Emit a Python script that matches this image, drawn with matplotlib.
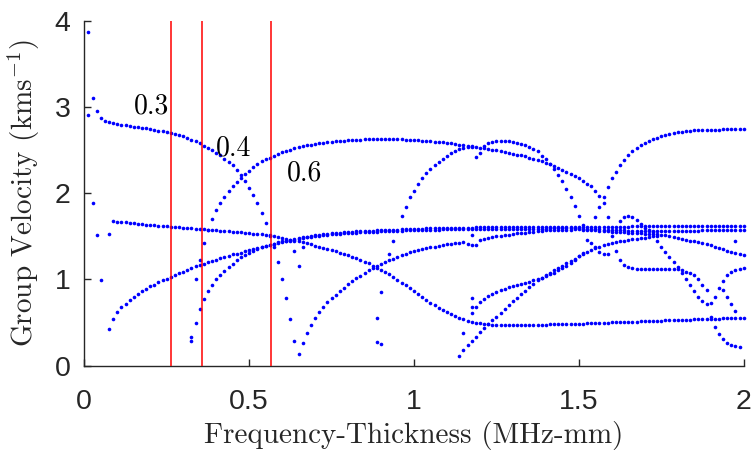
import numpy as np
import matplotlib
matplotlib.use("Agg")
import matplotlib.pyplot as plt

# frequency-thickness sampling of the dispersion solver (MHz-mm)
FREQ_STEP = 0.0125

# group velocity branches (km/s), each listed from its first frequency
MODE_A_F0 = 0.0125
MODE_A = [2.90, 3.10, 2.95, 2.87, 2.835, 2.82, 2.81, 2.80, 2.795, 2.785,
          2.78, 2.77, 2.765, 2.755, 2.75, 2.74, 2.735, 2.725, 2.715, 2.705,
          2.695, 2.685, 2.675, 2.66, 2.64, 2.62, 2.60, 2.575, 2.55, 2.525,
          2.50, 2.47, 2.44, 2.40, 2.36, 2.32, 2.27, 2.21, 2.14, 2.06,
          1.98, 1.88, 1.77, 1.65, 1.52, 1.37, 1.20, 1.00, 0.78, 0.54,
          0.29, 0.13]

MODE_B_F0 = 0.3375
MODE_B = [1.00, 1.23, 1.42, 1.57, 1.70, 1.80, 1.88, 1.95, 2.02, 2.08,
          2.13, 2.18, 2.22, 2.26, 2.30, 2.34, 2.37, 2.39, 2.41, 2.43,
          2.455, 2.475, 2.49, 2.505, 2.52, 2.535, 2.545, 2.555, 2.563, 2.57,
          2.577, 2.583, 2.59, 2.595, 2.60, 2.604, 2.608, 2.612, 2.615, 2.618,
          2.62, 2.622, 2.624, 2.625, 2.626, 2.627, 2.627, 2.627, 2.626, 2.625,
          2.623, 2.62, 2.618, 2.615, 2.612, 2.608, 2.604, 2.60, 2.597, 2.594,
          2.59, 2.585, 2.578, 2.57, 2.562, 2.553, 2.546, 2.54, 2.535, 2.527,
          2.52, 2.513, 2.505, 2.497, 2.49, 2.48, 2.47, 2.457, 2.447, 2.437,
          2.425, 2.41, 2.398, 2.385, 2.37, 2.352, 2.335, 2.315, 2.295, 2.27,
          2.25, 2.225, 2.20, 2.17, 2.14, 2.11, 2.08, 2.03, 1.97, 1.88,
          1.72, 1.50, 1.33, 1.23, 1.17, 1.145, 1.132, 1.124, 1.12, 1.118,
          1.117, 1.117, 1.117, 1.117, 1.117, 1.117, 1.117, 1.117, 1.105, 1.09,
          1.075, 1.05, 1.01, 0.94, 0.88]

MODE_C_F0 = 1.1875
MODE_C = [2.42, 2.47, 2.55, 2.575, 2.59, 2.60, 2.603, 2.603, 2.60, 2.595,
          2.585, 2.572, 2.555, 2.54, 2.515, 2.485, 2.43, 2.39, 2.34, 2.28,
          2.21, 2.14, 2.05, 1.96, 1.85, 1.74, 1.63, 1.46, 1.42, 1.37,
          1.32, 1.29, 1.29]

MODE_R_F0 = 0.9625
MODE_R = [1.74, 1.84, 1.95, 2.03, 2.11, 2.17, 2.23, 2.28, 2.325, 2.365,
          2.40, 2.435, 2.465, 2.487, 2.507, 2.523, 2.535, 2.543]

MODE_D_F0 = 1.55
MODE_D = [1.72, 1.84, 1.96, 2.07, 2.17, 2.25, 2.32, 2.385, 2.44, 2.485,
          2.525, 2.555, 2.58, 2.605, 2.625, 2.643, 2.66, 2.673, 2.685, 2.695,
          2.705, 2.712, 2.718, 2.722, 2.726, 2.729, 2.731, 2.733, 2.735, 2.736,
          2.737, 2.738, 2.739, 2.74, 2.74, 2.74, 2.74]

MODE_E_F0 = 0.0875
MODE_E = [1.675, 1.67, 1.665, 1.66, 1.655, 1.65, 1.645, 1.64, 1.636, 1.632,
          1.628, 1.624, 1.62, 1.616, 1.612, 1.608, 1.604, 1.60, 1.596, 1.592,
          1.588, 1.584, 1.58, 1.576, 1.572, 1.568, 1.564, 1.56, 1.556, 1.552,
          1.548, 1.544, 1.54, 1.536,
          1.531, 1.526, 1.521, 1.515, 1.508, 1.50, 1.49, 1.48, 1.47, 1.46,
          1.45, 1.44, 1.43, 1.418, 1.405, 1.39, 1.378, 1.365, 1.352, 1.338,
          1.324, 1.31, 1.295, 1.28, 1.263, 1.245, 1.226, 1.206, 1.185, 1.16,
          1.137, 1.112, 1.087, 1.058, 1.027, 0.995, 0.962, 0.93, 0.897, 0.862,
          0.83, 0.795, 0.762, 0.73, 0.70, 0.672, 0.645, 0.62, 0.597, 0.575,
          0.555, 0.537, 0.522, 0.51, 0.50, 0.491, 0.484, 0.478, 0.474, 0.471,
          0.469, 0.468, 0.468, 0.468,
          0.469, 0.47, 0.471, 0.472, 0.473, 0.474, 0.475, 0.476, 0.478, 0.479,
          0.48, 0.482, 0.483, 0.485, 0.486, 0.487,
          0.489, 0.491, 0.492, 0.494, 0.496, 0.498, 0.5, 0.501, 0.503, 0.505,
          0.507, 0.508, 0.51, 0.512, 0.513, 0.515,
          0.517, 0.519, 0.521, 0.522, 0.524, 0.526, 0.528, 0.53, 0.531, 0.533,
          0.535, 0.537, 0.539, 0.541, 0.543, 0.545,
          0.546, 0.547, 0.548, 0.549, 0.55, 0.551, 0.553, 0.555]

MODE_F_F0 = 0.075
MODE_F = [0.42, 0.54, 0.62, 0.68, 0.72, 0.765, 0.80, 0.83, 0.865, 0.89,
          0.92, 0.94, 0.965, 0.99, 1.01, 1.03, 1.05, 1.07, 1.09, 1.11,
          1.13, 1.15, 1.165, 1.18, 1.20, 1.215, 1.23, 1.245, 1.26, 1.275,
          1.29, 1.30, 1.31, 1.325, 1.34,
          1.35, 1.36, 1.375, 1.39, 1.40, 1.415, 1.43, 1.44, 1.45, 1.46,
          1.47, 1.48, 1.49, 1.497, 1.505, 1.512, 1.518, 1.524, 1.529, 1.534,
          1.538, 1.542, 1.546, 1.55, 1.553, 1.556, 1.559, 1.562, 1.564, 1.566,
          1.568, 1.57,
          1.572, 1.574, 1.576, 1.578, 1.58, 1.582, 1.584, 1.586, 1.588, 1.589,
          1.59, 1.591, 1.592, 1.593, 1.594, 1.595, 1.596, 1.597, 1.598, 1.599,
          1.6, 1.601, 1.602, 1.603,
          1.603, 1.604, 1.604, 1.605, 1.605, 1.606, 1.606, 1.607, 1.607, 1.607,
          1.608, 1.608, 1.608, 1.609, 1.609, 1.609, 1.61, 1.61, 1.61, 1.61,
          1.611, 1.611, 1.611, 1.612,
          1.612, 1.612, 1.612, 1.612, 1.612, 1.612, 1.612, 1.612,
          1.612, 1.613, 1.613, 1.613, 1.614, 1.614, 1.614, 1.615, 1.615, 1.615,
          1.616, 1.616, 1.616, 1.617, 1.617, 1.617, 1.618, 1.618, 1.618, 1.618,
          1.619, 1.619, 1.619, 1.619, 1.62, 1.62, 1.62, 1.62, 1.62, 1.62,
          1.62, 1.62]

MODE_G_F0 = 0.325
MODE_G = [0.33, 0.50, 0.66, 0.77, 0.86, 0.935, 1.0, 1.055, 1.10, 1.14,
          1.18, 1.22, 1.255, 1.285, 1.31, 1.335, 1.355, 1.37, 1.385, 1.398,
          1.41, 1.42, 1.43,
          1.44, 1.45, 1.46, 1.47, 1.478, 1.486, 1.493, 1.50, 1.506, 1.512,
          1.517, 1.522, 1.526, 1.53, 1.534, 1.537, 1.54, 1.543, 1.546, 1.548,
          1.55, 1.552, 1.554, 1.556, 1.558, 1.56, 1.562, 1.564, 1.566, 1.568,
          1.57, 1.572,
          1.573, 1.574, 1.575, 1.576, 1.577, 1.578, 1.579, 1.58, 1.58, 1.581,
          1.582, 1.582, 1.583, 1.583, 1.584, 1.584, 1.585, 1.585, 1.586, 1.586,
          1.586, 1.587, 1.587, 1.587, 1.588, 1.588, 1.588, 1.588, 1.589, 1.589,
          1.589, 1.589, 1.59, 1.59, 1.59, 1.59, 1.59, 1.59, 1.59, 1.59,
          1.588, 1.586, 1.584, 1.582, 1.58, 1.578, 1.576, 1.574, 1.572, 1.57,
          1.568, 1.566, 1.564, 1.562, 1.561, 1.56, 1.559, 1.558, 1.558, 1.558,
          1.558, 1.559, 1.56, 1.561, 1.562, 1.563, 1.564, 1.565, 1.566, 1.567,
          1.568, 1.569, 1.57, 1.571, 1.572, 1.573, 1.573, 1.574, 1.574, 1.575]

MODE_I_F0 = 0.6625
MODE_I = [0.26, 0.375, 0.47, 0.55, 0.62, 0.68, 0.735, 0.78, 0.825, 0.865,
          0.905, 0.945, 0.98, 1.015, 1.045, 1.075, 1.105, 1.13, 1.155, 1.18,
          1.20, 1.22, 1.24, 1.26, 1.28, 1.30, 1.315, 1.33, 1.34, 1.35,
          1.36, 1.37, 1.38, 1.39, 1.40, 1.408, 1.415, 1.42, 1.425, 1.43,
          1.41, 1.40, 1.40, 1.46, 1.47, 1.48, 1.49, 1.50, 1.508, 1.515,
          1.52, 1.527, 1.533, 1.538, 1.543, 1.548, 1.553, 1.558, 1.563, 1.567,
          1.57, 1.572, 1.574, 1.575, 1.577, 1.578, 1.579, 1.58,
          1.578, 1.575, 1.572, 1.568, 1.565, 1.561, 1.558, 1.555, 1.552, 1.549,
          1.546, 1.543, 1.54, 1.537, 1.534, 1.531, 1.528, 1.525, 1.522, 1.518,
          1.51, 1.50, 1.49, 1.48, 1.47, 1.46, 1.45, 1.44, 1.43, 1.42,
          1.41, 1.395, 1.38, 1.365, 1.35, 1.335, 1.32, 1.305, 1.295, 1.285]

MODE_P_F0 = 1.2
MODE_P = [0.74, 0.775, 0.805, 0.83, 0.855, 0.875, 0.893, 0.908, 0.922, 0.935,
          0.947, 0.958, 0.972, 0.988, 1.003, 1.018, 1.035, 1.058, 1.08, 1.105,
          1.13, 1.16, 1.19, 1.23, 1.27, 1.30, 1.32, 1.34, 1.36, 1.38,
          1.395, 1.41, 1.42, 1.43, 1.44, 1.45, 1.457, 1.465, 1.472, 1.478,
          1.485, 1.492, 1.498, 1.505]

MODE_Q_F0 = 1.1375
MODE_Q = [0.11, 0.18, 0.235, 0.29, 0.335, 0.387, 0.437, 0.483, 0.53, 0.57,
          0.614, 0.66, 0.707, 0.753, 0.79, 0.83, 0.87, 0.91, 0.95, 0.99,
          1.016, 1.047, 1.074, 1.105, 1.13, 1.16, 1.187, 1.21, 1.24, 1.27,
          1.31]

MODE_H_F0 = 1.625
MODE_H = [1.68, 1.725, 1.74, 1.72, 1.685, 1.64, 1.60, 1.575, 1.555]

MODE_K_F0 = 1.7375
MODE_K = [1.44, 1.38, 1.32, 1.26, 1.20, 1.145, 1.07, 1.00, 0.93, 0.86,
          0.80, 0.75, 0.72, 0.725, 0.80, 0.90, 0.985, 1.05, 1.09, 1.11,
          1.12, 1.13]

MODE_L_F0 = 1.9375
MODE_L = [0.88, 0.80, 0.71, 0.63]

MODE_M_F0 = 1.9
MODE_M = [0.57, 0.45, 0.37, 0.31, 0.26, 0.24, 0.23, 0.22]

# isolated roots that do not sit on a branch
STRAY_FREQ = [0.0125, 0.025, 0.0375, 0.05, 0.075, 0.325, 0.6375, 0.65,
              0.6625, 0.8875, 0.9, 0.8875, 0.9, 0.925, 0.9375, 1.15,
              1.175, 1.175, 1.1875, 1.175, 1.175, 1.975]
STRAY_VEL = [3.87, 1.88, 1.52, 0.99, 1.53, 0.29, 1.33, 1.15,
             1.375, 0.28, 0.255, 0.55, 0.85, 1.29, 1.45, 0.38,
             0.785, 0.68, 0.68, 0.61, 1.52, 1.45]

# plate thickness markers (MHz-mm) and their labels
CUTOFF_FREQ = [0.264, 0.358, 0.565]
CUTOFF_LABELS = ["0.3", "0.4", "0.6"]
CUTOFF_LABEL_POS = [(0.204, 3.0), (0.452, 2.52), (0.668, 2.23)]

XTICKS = [0, 0.5, 1, 1.5, 2]
XTICK_LABELS = ["0", "0.5", "1", "1.5", "2"]
YTICKS = [0, 1, 2, 3, 4]
YTICK_LABELS = ["0", "1", "2", "3", "4"]

MODES = [
    (MODE_A_F0, MODE_A), (MODE_B_F0, MODE_B), (MODE_C_F0, MODE_C),
    (MODE_R_F0, MODE_R), (MODE_D_F0, MODE_D), (MODE_E_F0, MODE_E),
    (MODE_F_F0, MODE_F), (MODE_G_F0, MODE_G), (MODE_I_F0, MODE_I),
    (MODE_P_F0, MODE_P), (MODE_Q_F0, MODE_Q), (MODE_H_F0, MODE_H),
    (MODE_K_F0, MODE_K), (MODE_L_F0, MODE_L), (MODE_M_F0, MODE_M),
]

AXIS_GREY = "#262626"


def branch(f0, values):
    freq = f0 + FREQ_STEP * np.arange(len(values))
    return freq, np.asarray(values)


def main():
    plt.rcParams["mathtext.fontset"] = "cm"
    plt.rcParams["font.family"] = ["Liberation Sans", "DejaVu Sans"]

    fig = plt.figure(figsize=(7.54, 4.53), dpi=100)
    ax = fig.add_axes([0.1118, 0.1927, 0.8745, 0.762])

    for f0, vals in MODES:
        fx, vy = branch(f0, vals)
        ax.plot(fx, vy, "o", color="blue", ms=2.6, mew=0, clip_on=False)
    ax.plot(STRAY_FREQ, STRAY_VEL, "o", color="blue", ms=2.6, mew=0)

    for fc in CUTOFF_FREQ:
        ax.axvline(fc, color="red", lw=1.1, zorder=3)
    for lab, (lx, ly) in zip(CUTOFF_LABELS, CUTOFF_LABEL_POS):
        ax.text(lx, ly, lab, family="cmr10", fontsize=20,
                ha="center", va="center", zorder=4)

    ax.set_xlim(0, 2)
    ax.set_ylim(0, 4)
    ax.set_xticks(XTICKS)
    ax.set_xticklabels(XTICK_LABELS)
    ax.set_yticks(YTICKS)
    ax.set_yticklabels(YTICK_LABELS)

    for side in ("top", "right"):
        ax.spines[side].set_visible(False)
    for side in ("left", "bottom"):
        ax.spines[side].set_color(AXIS_GREY)
        ax.spines[side].set_linewidth(1.0)

    ax.tick_params(axis="both", direction="in", length=4.7, width=1.0,
                   colors=AXIS_GREY, labelsize=20.5)
    ax.tick_params(axis="x", pad=17)
    ax.tick_params(axis="y", pad=10)

    ax.set_xlabel("Frequency-Thickness (MHz-mm)", family="cmr10",
                  fontsize=21, color=AXIS_GREY, labelpad=4)
    ax.set_ylabel("Group Velocity (kms$^{-1}$)", family="cmr10",
                  fontsize=21, color=AXIS_GREY, labelpad=9)

    fig.savefig("out.png", dpi=100)


if __name__ == "__main__":
    main()
